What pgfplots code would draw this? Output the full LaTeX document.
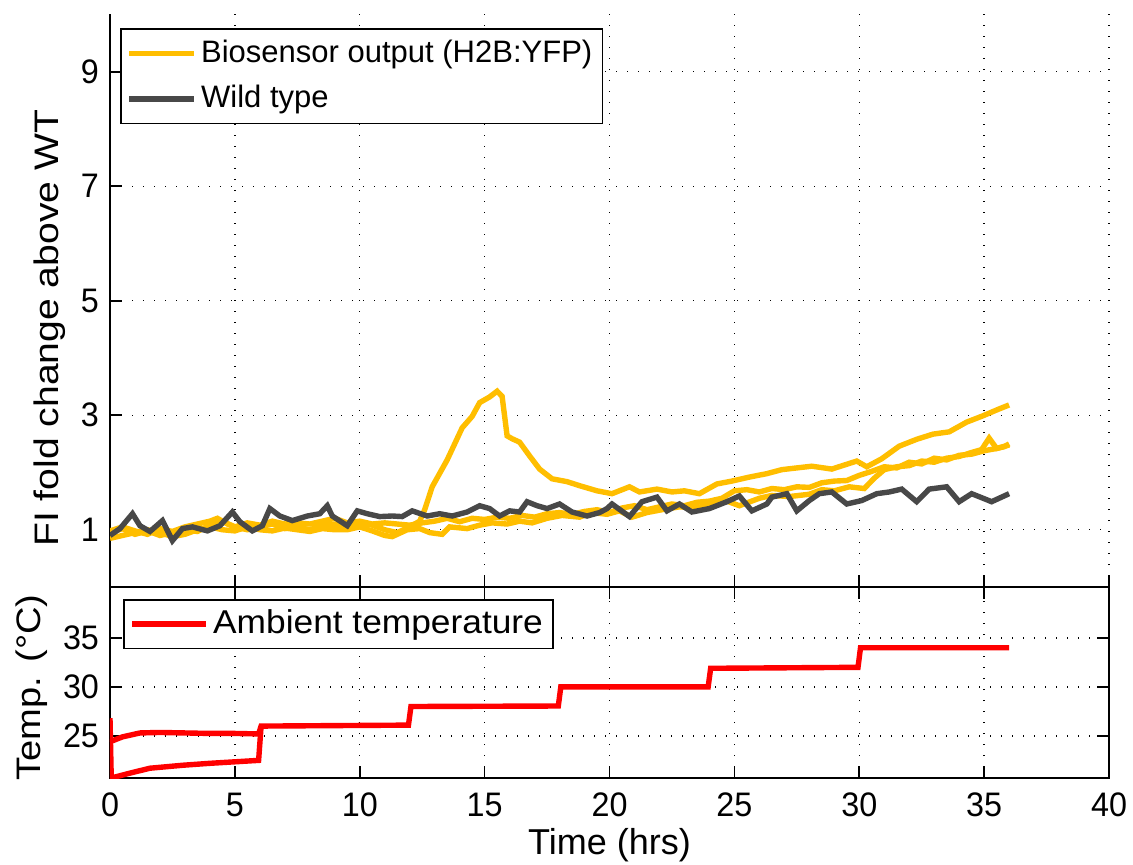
\documentclass[border=0pt]{standalone}
\usepackage{fontspec}
\setmainfont{Liberation Sans}
\newfontfamily\tickfont[FakeStretch=0.95]{Liberation Sans}
\newfontfamily\ylabfont[FakeStretch=1.15]{Liberation Sans}
\newfontfamily\tlabfont[FakeStretch=1.12]{Liberation Sans}
\newfontfamily\leglfont[FakeStretch=1.07]{Liberation Sans}
\usepackage{pgfplots}
\pgfplotsset{compat=1.18}
\definecolor{ylw}{RGB}{255,190,0}
\definecolor{gry}{RGB}{72,72,72}
\begin{document}
\fontsize{16}{19}\selectfont
\begin{tikzpicture}
\useasboundingbox (0,0) rectangle (566.5pt,-432.5pt);
\pgfplotsset{
 every axis/.append style={
   scale only axis, width=499.5pt,
   xmin=0,xmax=40, xtick={0,5,...,40},
   grid=major, grid style={black, line width=0.7pt, dash pattern=on 0.7pt off 4.8pt},
   tick align=inside, major tick length=6pt,
   tick style={black, line width=0.8pt},
   /pgf/number format/assume math mode=true,
   tick label style={font=\tickfont\fontsize{17}{20}\selectfont},
   legend style={draw=black, line width=0.8pt, legend cell align=left},
 }
}
\begin{axis}[at={(55pt,-293.5pt)}, anchor=south west, height=286.25pt,
 ymin=0,ymax=10, ytick={1,3,5,7,9}, xticklabels={},
 axis x line*=bottom, axis y line*=left, axis line style={-, line width=0.8pt},
 ylabel={FI fold change above WT},
 ylabel style={font=\ylabfont\fontsize{17}{20}\selectfont, at={(axis description cs:-0.060,0.452)}, anchor=center},
 legend style={at={(0.01,0.976)}, anchor=north west, font=\fontsize{15.5}{18}\selectfont, row sep=5pt, inner ysep=3.5pt},
 legend image code/.code={\draw[#1] (0pt,0pt) -- (32.5pt,0pt);},
]
\addplot[ylw, line width=2.7pt, forget plot] coordinates {
(0,0.85)(0.5,0.9)(1,0.95)(1.5,1.0)(2,0.95)(2.5,0.88)(3,0.92)(3.5,1.0)(4,1.05)(4.5,1.0)(5,0.98)(5.5,1.05)(6,1.0)(6.5,0.98)(7,1.03)(7.5,1.0)(8,0.97)(8.5,1.02)(9,1.0)(9.5,1.0)(10,1.05)(10.5,0.98)(11,0.9)(11.3,0.88)(11.9,1.0)(12.4,1.02)(12.8,0.95)(13.3,0.92)(13.6,1.05)(14.3,1.02)(14.8,1.08)(15.3,1.12)(15.9,1.1)(16.4,1.15)(16.9,1.12)(17.5,1.2)(18.1,1.25)(18.8,1.22)(19.3,1.3)(19.9,1.27)(20.4,1.33)(20.9,1.22)(21.5,1.3)(22.1,1.35)(22.8,1.4)(23.5,1.38)(24,1.45)(24.7,1.5)(25.2,1.42)(26,1.55)(26.5,1.6)(27.2,1.58)(28,1.62)(28.5,1.7)(29,1.68)(29.6,1.75)(30.2,1.72)(30.6,1.9)(31,2.05)(31.5,2.1)(32,2.12)(32.5,2.2)(33,2.18)(33.5,2.25)(34,2.28)(34.5,2.35)(34.9,2.4)(35.2,2.6)(35.5,2.42)(35.8,2.45)(36,2.5)
};
\addplot[ylw, line width=2.7pt, forget plot] coordinates {
(0,0.98)(0.5,1.05)(1,0.98)(1.5,0.92)(2,1.02)(2.5,0.97)(3,1.05)(3.5,1.1)(4,1.15)(4.3,1.2)(4.7,1.1)(5,1.05)(5.5,1.12)(6,1.08)(6.5,1.15)(7,1.1)(7.5,1.12)(8,1.1)(8.5,1.15)(9,1.2)(9.5,1.12)(10,1.15)(10.5,1.1)(11,1.12)(11.5,1.1)(12,1.08)(12.5,1.12)(13,1.15)(13.5,1.2)(14,1.14)(14.5,1.2)(15,1.18)(15.5,1.22)(16,1.2)(16.5,1.25)(17,1.22)(17.5,1.28)(18,1.3)(18.5,1.27)(19,1.32)(19.5,1.35)(20,1.3)(20.5,1.38)(21,1.42)(21.5,1.35)(22,1.4)(22.5,1.45)(23,1.42)(23.5,1.48)(24,1.5)(24.5,1.55)(25,1.68)(25.5,1.7)(26,1.66)(26.5,1.72)(27,1.7)(27.5,1.75)(28,1.74)(28.5,1.82)(29,1.85)(29.5,1.86)(30,1.95)(30.5,2.02)(31,2.1)(31.5,2.08)(32,2.18)(32.5,2.15)(33,2.25)(33.5,2.22)(34,2.3)(34.5,2.32)(35,2.38)(35.5,2.42)(36,2.48)
};
\addplot[ylw, line width=2.7pt] coordinates {
(0,0.95)(0.5,1.02)(1,0.92)(1.5,0.98)(2,0.9)(2.5,0.95)(3,1.0)(3.5,0.97)(4,1.08)(4.5,1.15)(5,1.05)(5.5,1.0)(6,1.05)(6.5,1.1)(7,1.02)(7.5,1.05)(8,1.0)(8.5,1.08)(9,1.1)(9.5,1.05)(10,1.12)(10.5,1.08)(11,1.0)(11.5,0.95)(12,1.05)(12.4,1.15)(12.6,1.35)(12.9,1.75)(13.5,2.22)(14.1,2.78)(14.5,2.98)(14.8,3.22)(15.2,3.32)(15.5,3.42)(15.7,3.33)(15.9,2.64)(16.1,2.59)(16.4,2.53)(16.8,2.29)(17.2,2.06)(17.7,1.89)(18.3,1.84)(18.8,1.77)(19.5,1.68)(20.1,1.63)(20.8,1.75)(21.2,1.66)(21.9,1.71)(22.5,1.66)(23.0,1.68)(23.6,1.63)(24.3,1.80)(24.9,1.85)(25.6,1.92)(26.3,1.98)(26.9,2.05)(27.5,2.08)(28.1,2.11)(28.9,2.06)(29.9,2.20)(30.3,2.10)(30.9,2.24)(31.6,2.46)(32.3,2.58)(32.95,2.67)(33.6,2.71)(34.3,2.88)(34.95,2.99)(35.6,3.11)(36.0,3.18)
};
\addlegendentry{Biosensor output (H2B:YFP)}
\addplot[gry, line width=2.7pt] coordinates {
(0,0.9)(0.4,1.02)(0.9,1.28)(1.2,1.07)(1.6,0.97)(2.1,1.16)(2.5,0.81)(2.9,1.02)(3.3,1.05)(3.9,0.98)(4.4,1.07)(4.9,1.31)(5.2,1.14)(5.7,0.98)(6.1,1.07)(6.4,1.37)(6.8,1.24)(7.3,1.16)(7.9,1.24)(8.4,1.28)(8.7,1.42)(8.9,1.24)(9.5,1.07)(9.9,1.33)(10.3,1.28)(10.8,1.23)(11.3,1.24)(11.7,1.23)(12.1,1.33)(12.7,1.24)(13.2,1.28)(13.7,1.24)(14.3,1.31)(14.8,1.42)(15.2,1.37)(15.6,1.24)(16.0,1.33)(16.4,1.31)(16.7,1.49)(17.1,1.42)(17.5,1.37)(18.0,1.45)(18.5,1.31)(19.1,1.24)(19.6,1.3)(19.9,1.37)(20.1,1.45)(20.8,1.23)(21.3,1.49)(21.9,1.57)(22.3,1.33)(22.8,1.45)(23.3,1.31)(24.0,1.37)(24.7,1.49)(25.2,1.59)(25.7,1.33)(26.3,1.45)(26.5,1.57)(27.1,1.63)(27.5,1.33)(28.0,1.51)(28.4,1.63)(28.9,1.66)(29.5,1.45)(30.1,1.51)(30.7,1.63)(31.2,1.66)(31.7,1.71)(32.3,1.49)(32.8,1.71)(33.5,1.75)(34.0,1.49)(34.5,1.63)(35.3,1.49)(36.0,1.63)
};
\addlegendentry{Wild type}
\end{axis}
\begin{axis}[at={(55pt,-293.5pt)}, anchor=north west, height=95.5pt,
 ymin=20.7, ymax=40.2, ytick={25,30,35},
 axis line style={line width=0.8pt},
 xticklabel style={yshift=-2pt},
 xlabel={Time (hrs)}, ylabel={Temp. (°C)},
 ylabel style={font=\tlabfont\fontsize{17}{20}\selectfont, at={(axis description cs:-0.0786,0.474)}, anchor=center},
 xlabel style={font=\fontsize{18}{21}\selectfont, at={(axis description cs:0.5,-0.35)}, anchor=center},
 legend style={at={(0.013,0.937)}, anchor=north west, font=\leglfont\fontsize{16.5}{19}\selectfont, inner ysep=3pt},
 legend image code/.code={\draw[#1] (0pt,0pt) -- (37pt,0pt);},
]
\addplot[red, line width=2.7pt] coordinates {
(0,24.4)(0.5,24.9)(1.2,25.3)(2,25.35)(3,25.3)(4,25.25)(5,25.25)(5.95,25.2)(6.05,26.0)(9,26.05)(11.95,26.1)(12.05,28.0)(17.95,28.05)(18.05,30.0)(23.95,30.0)(24.05,31.9)(29.95,32.0)(30.05,34.0)(36,34.0)
};
\addlegendentry{Ambient temperature}
\addplot[red, line width=2.7pt, forget plot] coordinates {
(0,26.8)(0.05,20.7)(0.8,21.2)(1.6,21.7)(2.9,22.0)(4,22.2)(5.95,22.5)(6.05,26.0)
};
\end{axis}
\end{tikzpicture}
\end{document}
